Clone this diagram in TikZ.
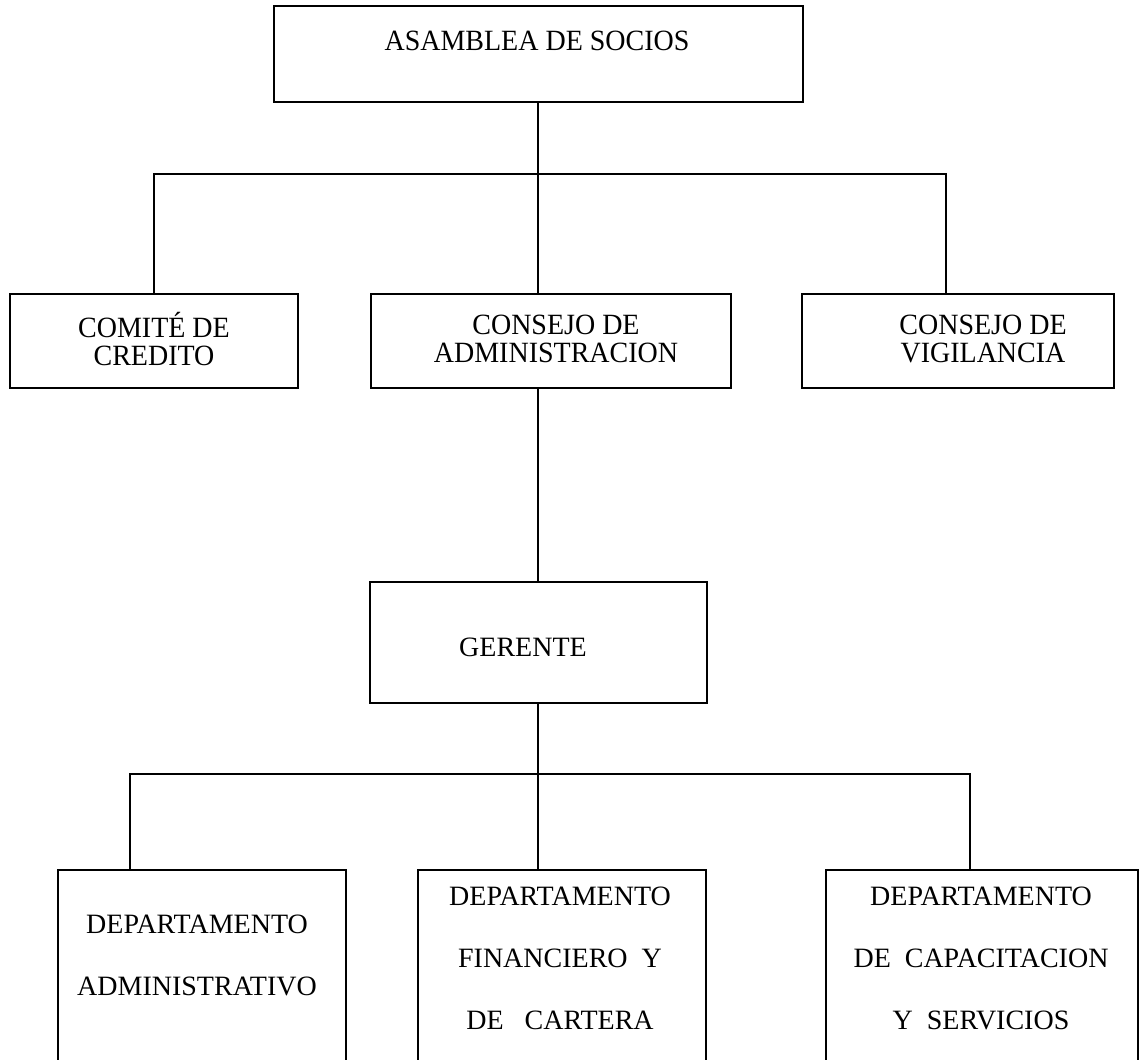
\documentclass[tikz,border=0pt]{standalone}
\usepackage{fontspec}
\setmainfont{Liberation Serif}
\newcommand{\ud}{0.4286pt}
\tikzset{
  caja/.style 2 args={draw, line width=0.8pt, inner sep=0pt,
    minimum width=#1*\ud, minimum height=#2*\ud},
  linea/.style={line width=0.7pt},
  texto/.style={align=center, inner sep=0pt, yscale=1.05,
    font=\fontsize{12}{11.2}\selectfont},
  textoalto/.style={align=center, inner sep=0pt, font=\fontsize{12}{26.6}\selectfont}
}
\begin{document}
\begin{tikzpicture}[x=0.4286pt, y=-0.4286pt]
                \useasboundingbox (0,0) rectangle (1140,1059);
                \clip (0,0) rectangle (1140,1059);
                % cajas
                \node[caja={529}{96}] (asamblea) at (538.5,54) {};
                \node[caja={288}{94}] (comite) at (154,341) {};
                \node[caja={360}{94}] (consejoadm) at (551,341) {};
                \node[caja={312}{94}] (vigilancia) at (958,341) {};
                \node[caja={337}{121}] (gerente) at (538.5,642.5) {};
                \node[caja={288}{200}] (dptoadm) at (202,970) {};
                \node[caja={288}{200}] (dptofin) at (562,970) {};
                \node[caja={312}{200}] (dptocap) at (982,970) {};
                % textos
                \node[texto] (tasamblea) at (537,41) {ASAMBLEA DE SOCIOS};
                \node[texto] (tcomite) at (154,339) {COMITÉ DE\\CREDITO};
                \node[texto] (tconsejoadm) at (556,339) {CONSEJO DE\\ADMINISTRACION};
                \node[texto] (tvigilancia) at (983,339) {CONSEJO DE\\VIGILANCIA};
                \node[textoalto] (tgerente) at (523,647) {GERENTE};
                \node[textoalto] (tdptoadm) at (197,955) {DEPARTAMENTO\\ADMINISTRATIVO};
                \node[textoalto] (tdptofin) at (560,958.5) {DEPARTAMENTO\\FINANCIERO\ \ Y\\DE\ \ \ CARTERA};
                \node[textoalto] (tdptocap) at (981,958.5) {DEPARTAMENTO\\DE\ \ CAPACITACION\\Y\ \ SERVICIOS};
                % lineas
                \coordinate (b1) at (538,174);
                \coordinate (v1) at (946,174);
                \coordinate (b2) at (538,774);
                \coordinate (v2) at (130,774);
                \coordinate (v3) at (970,774);
                \draw[linea] (asamblea.south -| b1) -- (consejoadm.north -| b1);
                \draw[linea] (comite.north) |- (v1) -- (vigilancia.north -| v1);
                \draw[linea] (consejoadm.south -| b1) -- (gerente.north -| b1);
                \draw[linea] (gerente.south -| b2) -- (dptofin.north -| b2);
                \draw[linea] (dptoadm.north -| v2) |- (v3) -- (dptocap.north -| v3);
            \end{tikzpicture}
\end{document}
